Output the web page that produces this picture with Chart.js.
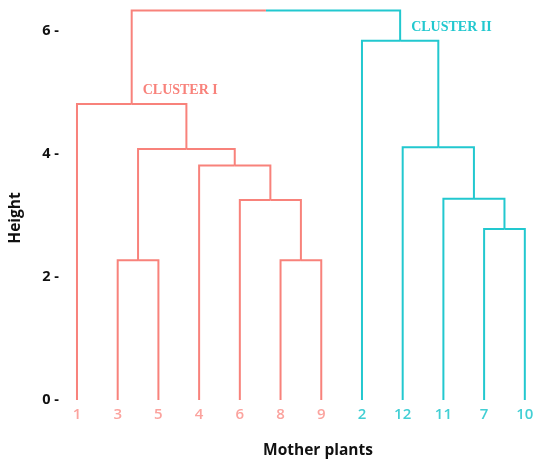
<!DOCTYPE html>
<html>
<head>
<meta charset="utf-8">
<script src="https://cdn.jsdelivr.net/npm/chart.js@4.4.0/dist/chart.umd.min.js"></script>
<style>
  html, body { margin: 0; padding: 0; background: #ffffff; }
  canvas { display: block; }
</style>
</head>
<body>
<canvas id="c" width="537" height="460"></canvas>
<script>
// Leaves in dendrogram order and the cluster each belongs to
const leafLabels = ['1', '3', '5', '4', '6', '8', '9', '2', '12', '11', '7', '10'];
const leafCluster = [0, 0, 0, 0, 0, 0, 0, 1, 1, 1, 1, 1];

// Merge steps: ids 0-11 are leaves, 12+ are the merges below in order
const mergeLeft   = [1, 5, 4, 3, 12, 0, 10, 9, 8, 7, 17];
const mergeRight  = [2, 6, 13, 14, 15, 16, 11, 18, 19, 20, 21];
const mergeHeight = [2.27, 2.27, 3.25, 3.81, 4.08, 4.81, 2.78, 3.27, 4.11, 5.84, 6.33];

const yTicks = [0, 2, 4, 6];
const clusterNames = ['CLUSTER I', 'CLUSTER II'];
const clusterRoots = [17, 21];
const lineColors = ['#F8827B', '#22C8CF'];
const labelColors = ['#FBA39E', '#42CFD4'];
const xTitle = 'Mother plants';
const yTitle = 'Height';

// Node positions: leaves sit at their index, merges at the midpoint of their children
const nodeX = leafLabels.map((_, i) => i);
const nodeH = leafLabels.map(() => 0);
const nodeC = leafCluster.slice();
mergeHeight.forEach((h, k) => {
  const a = mergeLeft[k], b = mergeRight[k];
  nodeX.push((nodeX[a] + nodeX[b]) / 2);
  nodeH.push(h);
  nodeC.push(nodeC[a] === nodeC[b] ? nodeC[a] : -1);
});

// Each merge is drawn as two elbows, one per child, coloured by that child's cluster
const datasets = [];
mergeHeight.forEach((h, k) => {
  const m = leafLabels.length + k;
  [mergeLeft[k], mergeRight[k]].forEach(c => {
    datasets.push({
      data: [
        { x: nodeX[c], y: nodeH[c] },
        { x: nodeX[c], y: h },
        { x: nodeX[m], y: h }
      ],
      showLine: true,
      borderColor: lineColors[nodeC[c]],
      borderWidth: 2,
      borderJoinStyle: 'miter',
      pointRadius: 0,
      pointHoverRadius: 0,
      fill: false,
      tension: 0
    });
  });
});

const TITLE_FONT = 'bold 15.5px "Open Sans", sans-serif';

// Cluster names beside each cluster's top node, plus the two axis titles
const annotations = {
  id: 'annotations',
  afterDatasetsDraw(chart) {
    const { ctx, scales } = chart;
    ctx.save();
    ctx.font = 'bold 14px "Liberation Serif", "Times New Roman", serif';
    ctx.textAlign = 'left';
    ctx.textBaseline = 'alphabetic';
    clusterRoots.forEach((r, i) => {
      ctx.fillStyle = lineColors[i];
      const px = scales.x.getPixelForValue(nodeX[r]) + 11;
      const py = scales.y.getPixelForValue(nodeH[r]) - 10;
      ctx.fillText(clusterNames[i], px, py);
    });

    ctx.fillStyle = '#111111';
    ctx.font = TITLE_FONT;
    ctx.textAlign = 'center';
    ctx.textBaseline = 'middle';
    ctx.fillText(xTitle, 318, 451);

    ctx.translate(16, 218);
    ctx.rotate(-Math.PI / 2);
    ctx.fillText(yTitle, 0, 0);
    ctx.restore();
  }
};

new Chart(document.getElementById('c'), {
  type: 'scatter',
  data: { datasets },
  plugins: [annotations],
  options: {
    responsive: false,
    animation: false,
    events: [],
    layout: { padding: { top: 5, right: 2, left: 0, bottom: 0 } },
    plugins: { legend: { display: false }, tooltip: { enabled: false } },
    scales: {
      x: {
        type: 'linear',
        min: -0.368,
        max: 11.25,
        grid: { display: false, drawTicks: false },
        border: { display: false },
        afterBuildTicks: s => { s.ticks = leafLabels.map((_, i) => ({ value: i })); },
        afterFit: s => { s.height = 60; s.paddingLeft = 0; s.paddingRight = 0; },
        ticks: {
          autoSkip: false,
          maxRotation: 0,
          padding: 6,
          font: { family: '"Open Sans", sans-serif', size: 15, weight: '600' },
          color: ctx => labelColors[leafCluster[ctx.index]],
          callback: v => leafLabels[v]
        }
      },
      y: {
        type: 'linear',
        min: 0,
        max: 6.42,
        grid: { display: false, drawTicks: false },
        border: { display: false },
        afterBuildTicks: s => { s.ticks = yTicks.map(v => ({ value: v })); },
        afterFit: s => { s.width = 62; s.paddingTop = 0; s.paddingBottom = 0; },
        ticks: {
          padding: 3,
          color: '#111111',
          font: { family: '"Open Sans", sans-serif', size: 14.5, weight: 'bold' },
          callback: v => v + ' -'
        }
      }
    }
  }
});
</script>
</body>
</html>
